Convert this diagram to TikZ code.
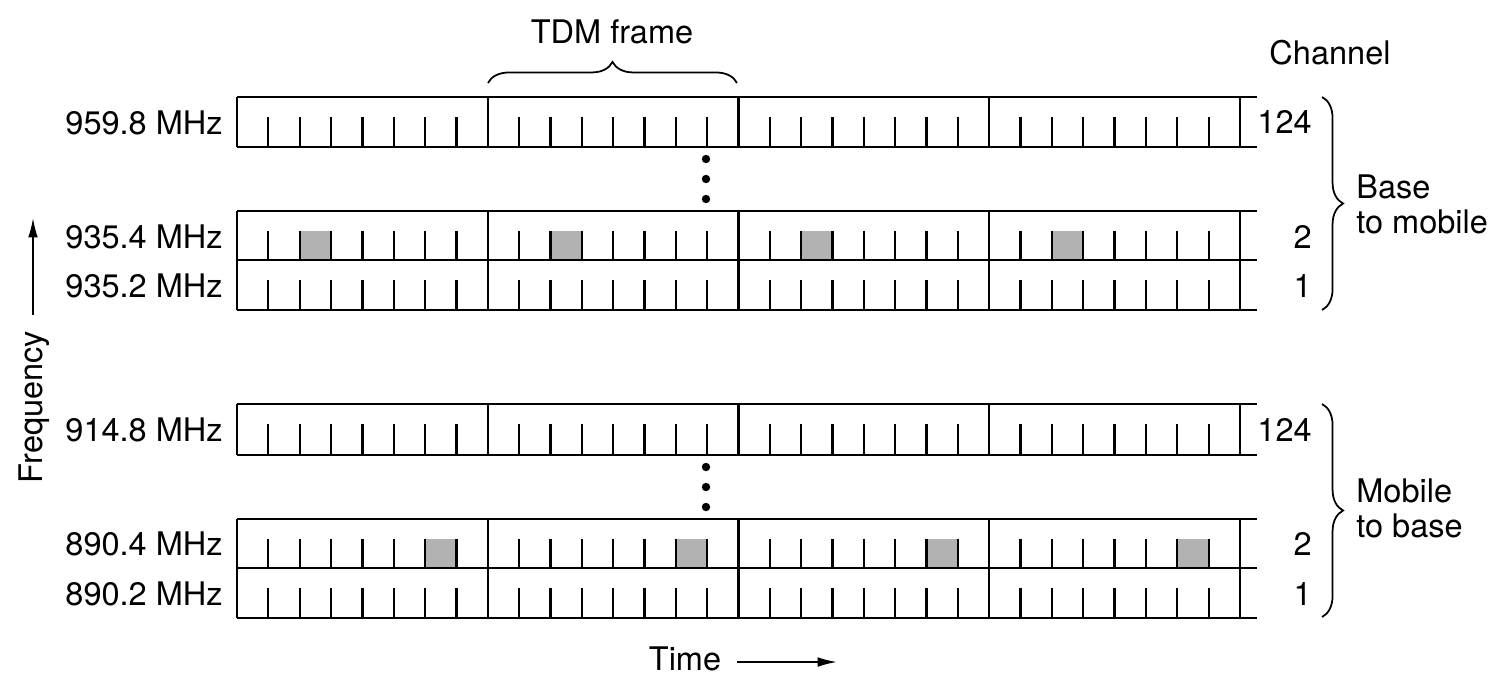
\documentclass[tikz,border=0pt]{standalone}
\usepackage{fontspec}
\setmainfont{TeX Gyre Heros}
\usetikzlibrary{arrows.meta,decorations.pathreplacing}

\tikzset{
  gridline/.style={line width=1.3pt},
  slotfill/.style={fill=black!30},
  freqlabel/.style={anchor=east, inner sep=0pt},
  chanlabel/.style={anchor=east, inner sep=0pt},
  dirlabel/.style={anchor=west, align=left, inner sep=0pt},
  bracepath/.style={line width=1pt, decorate,
    decoration={brace, amplitude=12pt}},
  axisarrow/.style={line width=1pt, -{Latex[length=11pt, width=5.5pt]}}
}

\begin{document}
\begin{tikzpicture}[x=0.02cm, y=-0.02cm,
    font={\fontsize{18.5}{20}\selectfont}]
\useasboundingbox (0,0) rectangle (1500,691);

% active slots
\foreach \f in {0,...,3} {
  \fill[slotfill] ({237+\f*250.75+2*31.34},230.5) rectangle ({237+\f*250.75+3*31.34},260);
  \fill[slotfill] ({237+\f*250.75+6*31.34},538.5) rectangle ({237+\f*250.75+7*31.34},568);
}

% channel rows
\foreach \ya/\yb in {97/147, 211/260, 260/310, 404/455, 519/568, 568/618} {
  \draw[gridline] (237,\ya) -- (1257,\ya) (237,\yb) -- (1257,\yb);
  \foreach \f in {0,...,4}
    \draw[gridline] ({237+\f*250.75},\ya) -- ({237+\f*250.75},\yb);
  \foreach \f in {0,...,3}
    \foreach \s in {1,...,7}
      \draw[gridline] ({237+\f*250.75+\s*31.34},{\ya+19.5}) -- ({237+\f*250.75+\s*31.34},\yb);
}

% dots
\foreach \y in {159,179,199,467,487,507}
  \fill (706,\y) circle[radius=2.4pt];

% frequencies
\node[freqlabel] (f959) at (223,123) {959.8 MHz};
\node[freqlabel] (f9354) at (223,237) {935.4 MHz};
\node[freqlabel] (f9352) at (223,286) {935.2 MHz};
\node[freqlabel] (f914) at (223,430) {914.8 MHz};
\node[freqlabel] (f8904) at (223,544) {890.4 MHz};
\node[freqlabel] (f8902) at (223,594) {890.2 MHz};

% channel numbers
\node (chan) at (1330,53) {Channel};
\node[chanlabel] (cbtop) at (1312,122) {124};
\node[chanlabel] (cbtwo) at (1312,237) {2};
\node[chanlabel] (cbone) at (1312,286) {1};
\node[chanlabel] (cmtop) at (1312,430) {124};
\node[chanlabel] (cmtwo) at (1312,544) {2};
\node[chanlabel] (cmone) at (1312,594) {1};

% braces
\draw[bracepath] (488,83) -- (737,83);
\node (tdm) at (612,32) {TDM frame};
\draw[bracepath] (1322,97) -- (1322,310);
\node[dirlabel] (b2m) at (1356,204) {Base\\to mobile};
\draw[bracepath] (1322,404) -- (1322,617);
\node[dirlabel] (m2b) at (1356,508) {Mobile\\to base};

% axes
\node[rotate=90] (freq) at (34,407) {Frequency};
\coordinate (freqtail) at (33,315);
\coordinate (freqtip) at (33,218);
\draw[axisarrow] (freqtail) -- (freqtip);
\node (time) at (685,659) {Time};
\coordinate (timetail) at (737,662);
\coordinate (timetip) at (837,662);
\draw[axisarrow] (timetail) -- (timetip);
\end{tikzpicture}
\end{document}
